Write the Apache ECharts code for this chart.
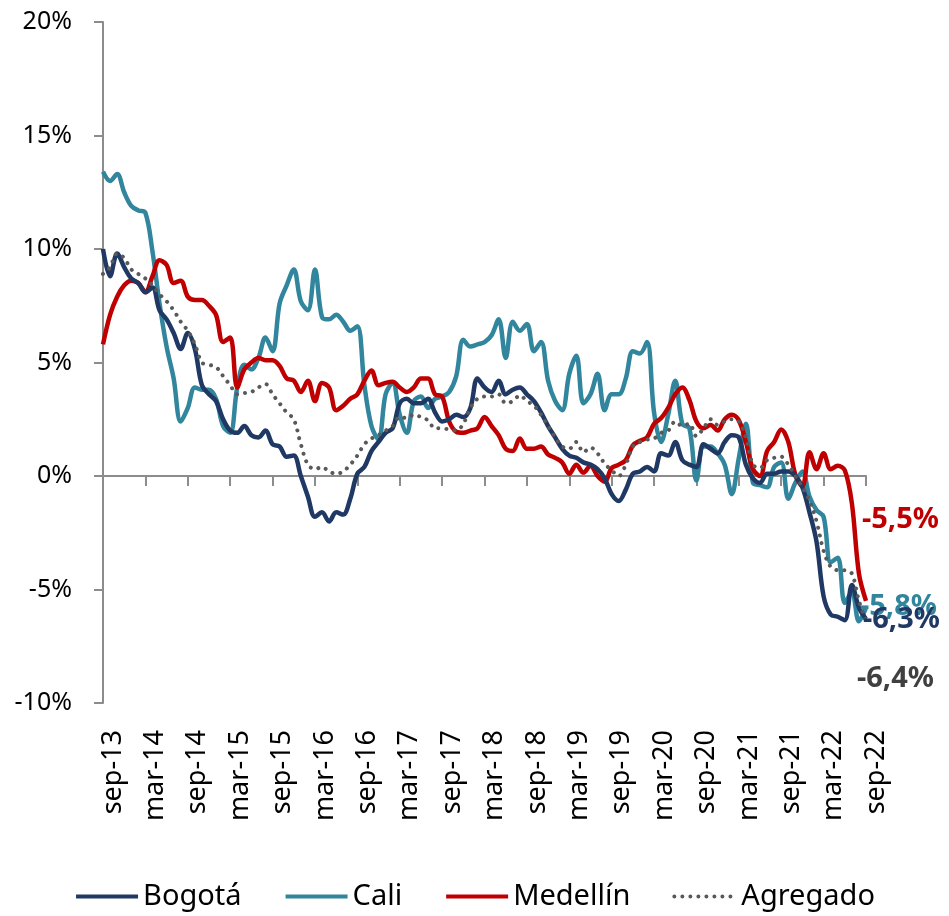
<!DOCTYPE html>
<html>
<head>
<meta charset="utf-8">
<script src="https://cdn.jsdelivr.net/npm/echarts@6/dist/echarts.min.js"></script>
<style>
  html, body { margin: 0; padding: 0; background: #fff; }
  #main { width: 949px; height: 916px; }
</style>
</head>
<body>
<div id="main"></div>
<script>
// variación anual (%), mensual desde sep-13 hasta sep-22
var bogota = [10.0, 8.8, 9.8, 9.2, 8.7, 8.5, 8.1, 8.3, 7.3, 6.9, 6.3, 5.6, 6.3, 5.6, 4.0, 3.6, 3.3, 2.5, 2.0, 1.9,
  2.2, 1.8, 1.7, 2.0, 1.4, 1.3, 0.85, 0.9, 0.0, -0.9, -1.8, -1.6, -2.0, -1.6, -1.7, -1.0, 0.1, 0.4, 1.1, 1.5,
  1.9, 2.1, 3.2, 3.4, 3.2, 3.2, 3.4, 2.8, 2.4, 2.5, 2.7, 2.6, 3.0, 4.3, 3.9, 3.7, 4.2, 3.6, 3.8, 3.9,
  3.6, 3.3, 2.8, 2.2, 1.7, 1.2, 0.9, 0.8, 0.6, 0.5, 0.3, -0.1, -0.8, -1.1, -0.6, 0.1, 0.2, 0.4, 0.2, 1.0,
  0.9, 1.5, 0.7, 0.5, 0.4, 1.4, 1.2, 1.0, 1.5, 1.8, 1.7, 0.5, -0.1, -0.3, 0.1, 0.1, 0.2, 0.2, 0.0, -0.5,
  -1.6, -2.9, -5.3, -6.1, -6.2, -6.35, -4.8, -5.8, -6.3];
var cali = [13.4, 13.0, 13.3, 12.5, 11.9, 11.7, 11.6, 9.9, 7.6, 5.7, 4.3, 2.4, 3.0, 3.9, 3.8, 3.8, 3.4, 2.2, 1.9, 3.9,
  4.9, 4.7, 5.2, 6.1, 5.5, 7.6, 8.4, 9.1, 7.7, 7.3, 9.1, 7.0, 6.9, 7.1, 6.8, 6.4, 6.6, 4.0, 2.2, 1.6,
  3.6, 4.1, 2.7, 1.9, 3.3, 3.5, 3.0, 3.4, 3.5, 3.7, 4.4, 6.0, 5.7, 5.8, 5.9, 6.2, 6.9, 5.2, 6.8, 6.4,
  6.7, 5.5, 5.9, 4.2, 3.3, 2.9, 4.5, 5.3, 3.2, 3.6, 4.5, 2.9, 3.6, 3.6, 4.3, 5.5, 5.4, 5.9, 2.8, 1.5,
  2.7, 4.2, 2.3, 2.1, -0.2, 1.3, 1.3, 1.0, 0.5, -0.8, 0.8, 2.3, -0.3, -0.4, -0.5, 0.4, 0.6, -1.0, -0.3, 0.2,
  -0.9, -1.5, -1.8, -3.8, -3.6, -5.6, -5.1, -6.4, -5.8];
var medellin = [5.8, 7.1, 7.9, 8.4, 8.6, 8.5, 8.1, 8.8, 9.5, 9.3, 8.5, 8.6, 7.9, 7.75, 7.75, 7.5, 7.1, 5.9, 6.1, 3.9,
  4.7, 5.0, 5.2, 5.1, 5.1, 4.85, 4.3, 4.2, 3.7, 4.2, 3.3, 4.1, 3.9, 2.9, 3.1, 3.4, 3.6, 4.2, 4.65, 4.0,
  4.1, 4.15, 3.9, 3.7, 3.9, 4.3, 4.3, 3.6, 3.5, 2.4, 1.95, 1.9, 2.0, 2.1, 2.6, 2.2, 1.8, 1.2, 1.1, 1.65,
  1.2, 1.2, 1.3, 0.95, 0.8, 0.6, 0.1, 0.5, 0.15, 0.45, 0.0, -0.25, 0.35, 0.5, 0.7, 1.35, 1.55, 1.7, 2.3, 2.55,
  3.0, 3.6, 3.9, 3.35, 2.4, 2.1, 2.25, 2.0, 2.5, 2.7, 2.45, 1.5, 0.3, 0.0, 1.1, 1.5, 2.05, 1.5, 0.05, -0.45,
  1.05, 0.3, 1.0, 0.3, 0.45, 0.25, -1.2, -4.3, -5.5];
var agregado = [8.9, 9.2, 9.8, 9.6, 9.1, 8.9, 8.7, 8.4, 8.0, 7.7, 7.3, 6.8, 6.4, 5.8, 5.0, 4.9, 4.8, 4.4, 4.0, 3.6,
  3.65, 3.7, 3.9, 4.05, 3.6, 3.2, 2.8, 2.5, 1.4, 0.5, 0.3, 0.4, 0.2, 0.1, 0.2, 0.5, 0.9, 1.4, 1.65, 1.8,
  2.0, 2.2, 2.6, 2.55, 2.7, 2.6, 2.45, 2.1, 2.1, 2.05, 2.0, 2.3, 3.0, 3.4, 3.5, 3.5, 3.6, 3.2, 3.3, 3.55,
  3.3, 3.1, 2.7, 2.2, 1.7, 1.3, 1.2, 1.5, 1.05, 1.25, 1.0, 0.55, 0.25, 0.0, 0.5, 1.3, 1.5, 1.6, 1.65, 1.9,
  2.0, 2.4, 2.2, 2.3, 1.75, 2.1, 2.5, 2.25, 2.4, 2.5, 2.4, 1.7, 0.5, 0.35, 0.7, 0.8, 0.85, 0.5, 0.0, -0.5,
  -1.1, -2.0, -3.3, -4.0, -4.15, -4.15, -4.3, -5.5, -6.4];

var meses = ["ene", "feb", "mar", "abr", "may", "jun", "jul", "ago", "sep", "oct", "nov", "dic"];
var fechas = [];
for (var i = 0; i < bogota.length; i++) {
  var k = 8 + i; // arranca en septiembre de 2013
  fechas.push(meses[k % 12] + "-" + (13 + Math.floor(k / 12)));
}

var fuente = "'Noto Sans', 'Open Sans', sans-serif";
var grisEje = "#8c8c8c";

function etiquetaFinal(color, dx, dy) {
  return {
    show: true,
    formatter: function (p) {
      return p.value.toFixed(1).replace(".", ",") + "%";
    },
    color: color,
    fontFamily: fuente,
    fontWeight: "bold",
    fontSize: 29,
    align: "left",
    distance: 0,
    offset: [dx, dy],
  };
}

var chart = echarts.init(document.getElementById("main"));
var option = {
  animation: false,
  grid: { left: 103, right: 83, top: 22, bottom: 213 },
  legend: {
    bottom: 0,
    left: "center",
    itemWidth: 62,
    itemHeight: 12,
    itemGap: 42,
    data: ["Bogotá", "Cali", "Medellín", "Agregado"],
    itemStyle: { opacity: 0 },
    lineStyle: { width: 4 },
    textStyle: { fontFamily: fuente, fontSize: 29, color: "#000" },
  },
  xAxis: [
    {
      // eje sobre el 0%
      type: "category",
      data: fechas,
      boundaryGap: false,
      axisLine: { onZero: true, lineStyle: { color: grisEje, width: 2 } },
      axisTick: { show: true, interval: 5, length: 10, lineStyle: { color: grisEje, width: 2 } },
      axisLabel: { show: false },
      splitLine: { show: false },
    },
    {
      // solo etiquetas abajo
      type: "category",
      data: fechas,
      boundaryGap: false,
      position: "bottom",
      axisLine: { show: false, onZero: false },
      axisTick: { show: false },
      axisLabel: {
        interval: 5,
        rotate: 90,
        margin: 27,
        verticalAlign: "top",
        lineHeight: 20,
        fontFamily: fuente,
        fontSize: 27,
        color: "#000",
      },
      splitLine: { show: false },
    },
  ],
  yAxis: {
    type: "value",
    min: -10,
    max: 20,
    interval: 5,
    axisLine: { show: true, lineStyle: { color: grisEje, width: 2 } },
    axisTick: { show: true, length: 9, lineStyle: { color: grisEje, width: 2 } },
    axisLabel: {
      formatter: "{value}%",
      margin: 31,
      fontFamily: fuente,
      fontSize: 25,
      color: "#000",
    },
    splitLine: { show: false },
  },
  series: [
    {
      name: "Cali",
      type: "line",
      data: cali,
      smooth: 0.35,
      symbol: "none",
      color: "#31859C",
      lineStyle: { width: 4.5 },
      endLabel: etiquetaFinal("#31859C", -6, -1),
    },
    {
      name: "Medellín",
      type: "line",
      data: medellin,
      smooth: 0.35,
      symbol: "none",
      color: "#C00000",
      lineStyle: { width: 4.5 },
      endLabel: etiquetaFinal("#C00000", -4, -81),
    },
    {
      name: "Bogotá",
      type: "line",
      data: bogota,
      smooth: 0.35,
      symbol: "none",
      color: "#1F3864",
      lineStyle: { width: 4.5 },
      endLabel: etiquetaFinal("#1F3864", -3, 1),
    },
    {
      name: "Agregado",
      type: "line",
      data: agregado,
      smooth: 0.35,
      symbol: "none",
      color: "#595959",
      lineStyle: { width: 4, type: [0.01, 8], cap: "round" },
      endLabel: etiquetaFinal("#404040", -9, 57),
    },
  ],
};
chart.setOption(option);
</script>
</body>
</html>
